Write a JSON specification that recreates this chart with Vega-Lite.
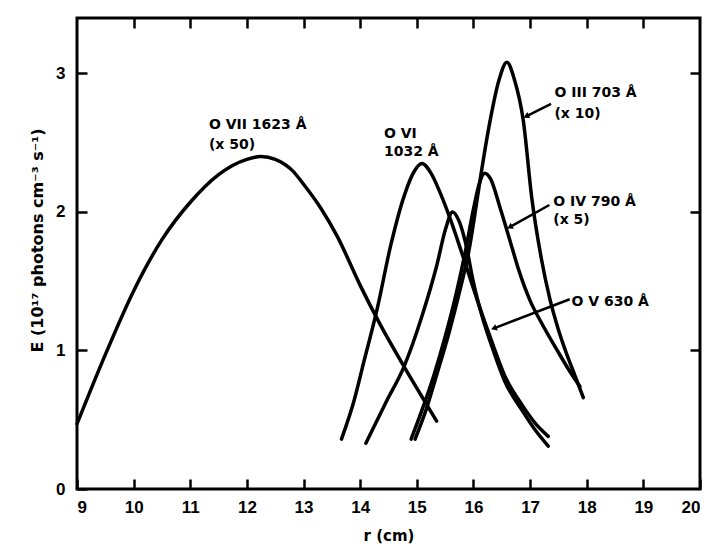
{
  "$schema": "https://vega.github.io/schema/vega-lite/v6.json",
  "width": 623,
  "height": 471,
  "autosize": {"type": "none"},
  "padding": {"left": 77, "top": 18, "right": 14, "bottom": 60},
  "background": "white",
  "config": {
    "view": {"stroke": "black", "strokeWidth": 3},
    "font": "Liberation Sans",
    "axis": {
      "domain": false,
      "grid": false,
      "tickColor": "black",
      "tickWidth": 2.5,
      "tickSize": -10,
      "labelFont": "Liberation Sans",
      "labelFontWeight": "bold",
      "labelFontSize": 17,
      "labelColor": "black",
      "titleFont": "DejaVu Sans",
      "titleFontWeight": "bold",
      "titleColor": "black"
    }
  },
  "datasets": {
    "curves": [
      {"line": "O VII", "r": 9.0, "E": 0.47},
      {"line": "O VII", "r": 9.5, "E": 0.97},
      {"line": "O VII", "r": 10.0, "E": 1.43},
      {"line": "O VII", "r": 10.5, "E": 1.80},
      {"line": "O VII", "r": 11.0, "E": 2.07},
      {"line": "O VII", "r": 11.5, "E": 2.27},
      {"line": "O VII", "r": 12.0, "E": 2.38},
      {"line": "O VII", "r": 12.25, "E": 2.40},
      {"line": "O VII", "r": 12.5, "E": 2.38},
      {"line": "O VII", "r": 12.8, "E": 2.30},
      {"line": "O VII", "r": 13.0, "E": 2.20},
      {"line": "O VII", "r": 13.3, "E": 2.03},
      {"line": "O VII", "r": 13.6, "E": 1.82},
      {"line": "O VII", "r": 14.0, "E": 1.47},
      {"line": "O VII", "r": 14.35, "E": 1.19},
      {"line": "O VII", "r": 14.78, "E": 0.88},
      {"line": "O VII", "r": 15.1, "E": 0.66},
      {"line": "O VII", "r": 15.35, "E": 0.49},
      {"line": "O VI", "r": 13.67, "E": 0.36},
      {"line": "O VI", "r": 13.9, "E": 0.65},
      {"line": "O VI", "r": 14.06, "E": 0.91},
      {"line": "O VI", "r": 14.3, "E": 1.30},
      {"line": "O VI", "r": 14.54, "E": 1.76},
      {"line": "O VI", "r": 14.78, "E": 2.12},
      {"line": "O VI", "r": 14.95, "E": 2.29},
      {"line": "O VI", "r": 15.09, "E": 2.35},
      {"line": "O VI", "r": 15.25, "E": 2.28},
      {"line": "O VI", "r": 15.4, "E": 2.15},
      {"line": "O VI", "r": 15.59, "E": 1.95},
      {"line": "O VI", "r": 15.83, "E": 1.66},
      {"line": "O VI", "r": 16.07, "E": 1.36},
      {"line": "O VI", "r": 16.31, "E": 1.08},
      {"line": "O VI", "r": 16.55, "E": 0.82},
      {"line": "O VI", "r": 16.87, "E": 0.60},
      {"line": "O VI", "r": 17.1, "E": 0.47},
      {"line": "O VI", "r": 17.32, "E": 0.38},
      {"line": "O V", "r": 14.1, "E": 0.33},
      {"line": "O V", "r": 14.46, "E": 0.63},
      {"line": "O V", "r": 14.77, "E": 0.88},
      {"line": "O V", "r": 15.1, "E": 1.26},
      {"line": "O V", "r": 15.35, "E": 1.61},
      {"line": "O V", "r": 15.51, "E": 1.88},
      {"line": "O V", "r": 15.63, "E": 2.00},
      {"line": "O V", "r": 15.75, "E": 1.93},
      {"line": "O V", "r": 15.87, "E": 1.76},
      {"line": "O V", "r": 15.99, "E": 1.51},
      {"line": "O V", "r": 16.15, "E": 1.25},
      {"line": "O V", "r": 16.35, "E": 1.00},
      {"line": "O V", "r": 16.55, "E": 0.78},
      {"line": "O V", "r": 16.87, "E": 0.56},
      {"line": "O V", "r": 17.1, "E": 0.42},
      {"line": "O V", "r": 17.32, "E": 0.31},
      {"line": "O IV", "r": 14.9, "E": 0.36},
      {"line": "O IV", "r": 15.1, "E": 0.58},
      {"line": "O IV", "r": 15.3, "E": 0.82},
      {"line": "O IV", "r": 15.5, "E": 1.10},
      {"line": "O IV", "r": 15.7, "E": 1.42},
      {"line": "O IV", "r": 15.85, "E": 1.70},
      {"line": "O IV", "r": 16.0, "E": 2.02},
      {"line": "O IV", "r": 16.1, "E": 2.20},
      {"line": "O IV", "r": 16.2, "E": 2.28},
      {"line": "O IV", "r": 16.3, "E": 2.24},
      {"line": "O IV", "r": 16.47, "E": 2.03},
      {"line": "O IV", "r": 16.64, "E": 1.80},
      {"line": "O IV", "r": 16.8, "E": 1.58},
      {"line": "O IV", "r": 17.0, "E": 1.36},
      {"line": "O IV", "r": 17.2, "E": 1.20},
      {"line": "O IV", "r": 17.48, "E": 1.00},
      {"line": "O IV", "r": 17.7, "E": 0.85},
      {"line": "O IV", "r": 17.88, "E": 0.74},
      {"line": "O III", "r": 14.97, "E": 0.36},
      {"line": "O III", "r": 15.17, "E": 0.58},
      {"line": "O III", "r": 15.37, "E": 0.85},
      {"line": "O III", "r": 15.57, "E": 1.13},
      {"line": "O III", "r": 15.77, "E": 1.45},
      {"line": "O III", "r": 15.92, "E": 1.72},
      {"line": "O III", "r": 16.05, "E": 2.05},
      {"line": "O III", "r": 16.14, "E": 2.29},
      {"line": "O III", "r": 16.29, "E": 2.65},
      {"line": "O III", "r": 16.45, "E": 2.95},
      {"line": "O III", "r": 16.59, "E": 3.08},
      {"line": "O III", "r": 16.72, "E": 2.96},
      {"line": "O III", "r": 16.88, "E": 2.66},
      {"line": "O III", "r": 17.03, "E": 2.10},
      {"line": "O III", "r": 17.2, "E": 1.66},
      {"line": "O III", "r": 17.35, "E": 1.37},
      {"line": "O III", "r": 17.5, "E": 1.15},
      {"line": "O III", "r": 17.65, "E": 0.97},
      {"line": "O III", "r": 17.8, "E": 0.81},
      {"line": "O III", "r": 17.94, "E": 0.66}
    ],
    "labels": [
      {"text": "O VII 1623 Å", "r": 11.33, "E": 2.63},
      {"text": "(x 50)", "r": 11.33, "E": 2.48},
      {"text": "O VI", "r": 14.42, "E": 2.56},
      {"text": "1032 Å", "r": 14.42, "E": 2.43},
      {"text": "O III 703 Å", "r": 17.43, "E": 2.86},
      {"text": "(x 10)", "r": 17.43, "E": 2.71},
      {"text": "O IV 790 Å", "r": 17.41, "E": 2.07},
      {"text": "(x 5)", "r": 17.41, "E": 1.94},
      {"text": "O V 630 Å", "r": 17.73, "E": 1.35}
    ],
    "arrows": [
      {"id": "O III", "r": 17.37, "E": 2.78, "r2": 16.93, "E2": 2.69},
      {"id": "O IV", "r": 17.34, "E": 2.05, "r2": 16.64, "E2": 1.89},
      {"id": "O V", "r": 17.7, "E": 1.37, "r2": 16.36, "E2": 1.16}
    ]
  },
  "layer": [
    {
      "data": {"name": "curves"},
      "mark": {"type": "line", "interpolate": "monotone", "stroke": "black", "strokeWidth": 3.5, "strokeCap": "round", "strokeJoin": "round"},
      "encoding": {
        "x": {
          "field": "r", "type": "quantitative",
          "scale": {"domain": [9, 20], "nice": false, "zero": false},
          "axis": {"orient": "bottom", "values": [9, 10, 11, 12, 13, 14, 15, 16, 17, 18, 19, 20], "title": "r (cm)", "labelPadding": 20, "titlePadding": 13, "titleFontSize": 15}
        },
        "y": {
          "field": "E", "type": "quantitative",
          "scale": {"domain": [0, 3.4], "nice": false},
          "axis": {"orient": "left", "values": [0, 1, 2, 3], "title": "E (10¹⁷ photons cm⁻³ s⁻¹)", "labelPadding": 22, "titlePadding": 10, "titleFontSize": 16, "titleY": 222}
        },
        "detail": {"field": "line"}
      }
    },
    {
      "data": {"name": "curves"},
      "mark": {"type": "point", "opacity": 0},
      "encoding": {
        "x": {"field": "r", "type": "quantitative", "axis": {"orient": "top", "labels": false, "title": null, "values": [10, 11, 12, 13, 14, 15, 16, 17, 18, 19]}},
        "y": {"field": "E", "type": "quantitative", "axis": {"orient": "right", "labels": false, "title": null, "values": [1, 2, 3]}}
      }
    },
    {
      "data": {"name": "arrows"},
      "mark": {"type": "rule", "stroke": "black", "strokeWidth": 2.5},
      "encoding": {
        "x": {"field": "r", "type": "quantitative", "axis": null},
        "y": {"field": "E", "type": "quantitative", "axis": null},
        "x2": {"field": "r2"},
        "y2": {"field": "E2"}
      }
    },
    {
      "data": {"name": "arrows"},
      "transform": [{"filter": "datum.id === 'O III'"}],
      "mark": {"type": "point", "shape": "triangle-left", "filled": true, "color": "black", "opacity": 1, "size": 45, "angle": 334},
      "encoding": {"x": {"field": "r2", "type": "quantitative", "axis": null}, "y": {"field": "E2", "type": "quantitative", "axis": null}}
    },
    {
      "data": {"name": "arrows"},
      "transform": [{"filter": "datum.id === 'O IV'"}],
      "mark": {"type": "point", "shape": "triangle-left", "filled": true, "color": "black", "opacity": 1, "size": 45, "angle": 332},
      "encoding": {"x": {"field": "r2", "type": "quantitative", "axis": null}, "y": {"field": "E2", "type": "quantitative", "axis": null}}
    },
    {
      "data": {"name": "arrows"},
      "transform": [{"filter": "datum.id === 'O V'"}],
      "mark": {"type": "point", "shape": "triangle-left", "filled": true, "color": "black", "opacity": 1, "size": 45, "angle": 339},
      "encoding": {"x": {"field": "r2", "type": "quantitative", "axis": null}, "y": {"field": "E2", "type": "quantitative", "axis": null}}
    },
    {
      "data": {"name": "labels"},
      "mark": {"type": "text", "align": "left", "baseline": "middle", "font": "DejaVu Sans", "fontWeight": "bold", "fontSize": 14, "color": "black"},
      "encoding": {
        "x": {"field": "r", "type": "quantitative", "axis": null},
        "y": {"field": "E", "type": "quantitative", "axis": null},
        "text": {"field": "text"}
      }
    }
  ]
}
